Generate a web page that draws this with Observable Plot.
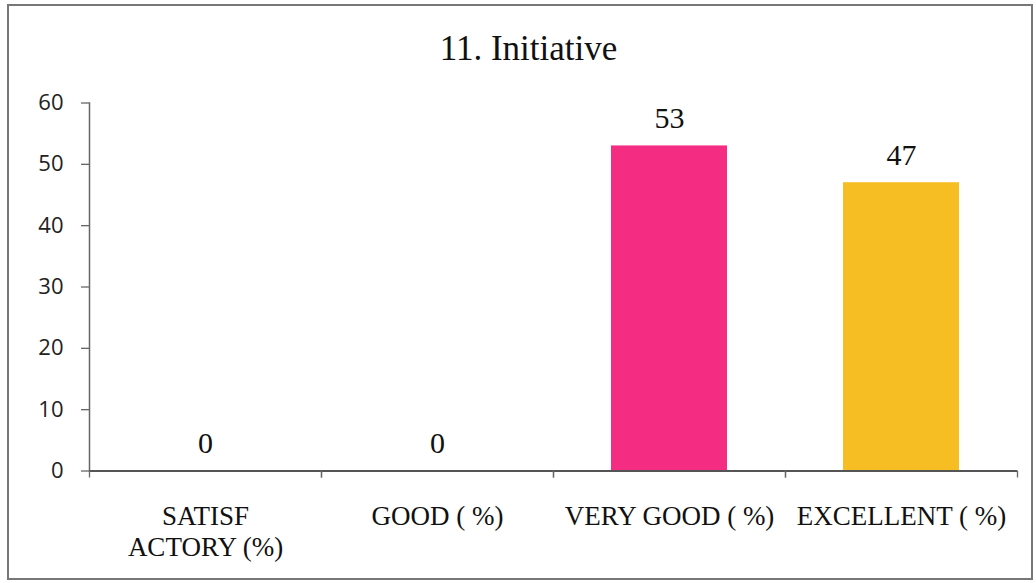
<!DOCTYPE html>
<html>
<head>
<meta charset="utf-8">
<script src="https://cdn.jsdelivr.net/npm/d3@7"></script>
<script src="https://cdn.jsdelivr.net/npm/@observablehq/plot@0.6"></script>
<style>
  html, body { margin: 0; padding: 0; background: #fff; }
  #wrap { position: relative; width: 1036px; height: 583px; overflow: hidden; }
  #border { position: absolute; left: 7px; top: 4px; width: 1022px; height: 572px; border: 2px solid #777; pointer-events: none; }
</style>
</head>
<body>
<div id="wrap"><div id="border"></div></div>
<script>
const title = "11. Initiative";
const categories = ["SATISFACTORY", "GOOD", "VERY GOOD", "EXCELLENT"];
const labels = ["SATISF\nACTORY (%)", "GOOD ( %)", "VERY GOOD ( %)", "EXCELLENT ( %)"];
const values = [0, 0, 53, 47];
const yTicks = [0, 10, 20, 30, 40, 50, 60];
const barColors = ["#4f81bd", "#c0504d", "#f42d83", "#f6be22"];

const data = categories.map((c, i) => ({category: c, label: labels[i], value: values[i]}));

const serif = "'Liberation Serif', 'Times New Roman', serif";
const sans = "'Open Sans', 'Liberation Sans', sans-serif";

const chart = Plot.plot({
  width: 1036,
  height: 583,
  marginLeft: 89,
  marginRight: 19,
  marginTop: 102.5,
  marginBottom: 112.5,
  style: {background: "transparent", fontFamily: sans},
  x: {domain: categories, paddingInner: 0.5, paddingOuter: 0.25, axis: null, label: null},
  y: {domain: [0, 60], axis: null, label: null},
  color: {domain: categories, range: barColors},
  marks: [
    Plot.barY(data, {x: "category", y: "value", fill: "category"}),
    Plot.axisY({ticks: yTicks, label: null, tickSize: 8, tickPadding: 18, fontSize: 22, fontFamily: sans, color: "#222", stroke: "#666", strokeWidth: 1.3}),
    Plot.frame({anchor: "left", stroke: "#666", strokeWidth: 1.5}),
    Plot.ruleY([0], {stroke: "#555", strokeWidth: 1.8}),
    Plot.axisX({ticks: categories, label: null, tickSize: 7, dx: -116, tickFormat: () => "", stroke: "#666", strokeWidth: 1.3}),
    Plot.axisX({ticks: categories, label: null, tickSize: 7, dx: 116, tickFormat: () => "", stroke: "#666", strokeWidth: 1.3}),
    Plot.text(data, {x: "category", y: "value", text: d => String(d.value), lineAnchor: "bottom", dy: -18, fontSize: 30, fontFamily: serif, fill: "#111"}),
    Plot.text(data, {x: "category", text: "label", frameAnchor: "bottom", lineAnchor: "top", dy: 33, lineHeight: 1.12, fontSize: 27, fontFamily: serif, fill: "#111"}),
    Plot.text([title], {frameAnchor: "top", text: d => d, lineAnchor: "middle", dy: -54.5, dx: -25, fontSize: 35, fontFamily: serif, fill: "#111"})
  ]
});
document.getElementById("wrap").prepend(chart);
</script>
</body>
</html>
